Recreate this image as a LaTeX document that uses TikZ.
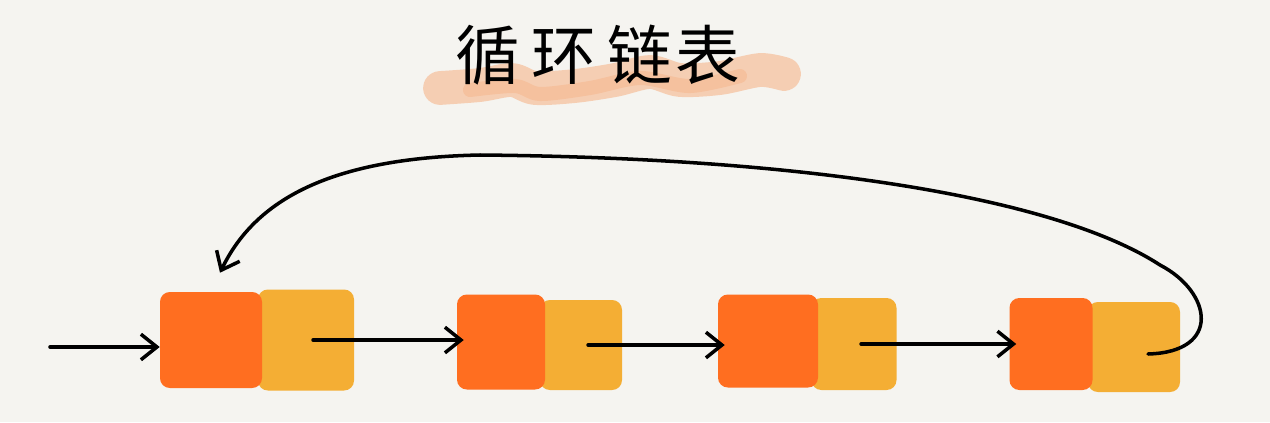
\documentclass[tikz,border=0pt]{standalone}
\usepackage{fontspec}
\newfontfamily\cjk{Noto Sans CJK SC}
\usetikzlibrary{arrows.meta}
\definecolor{paper}{RGB}{245,244,240}
\definecolor{datafill}{RGB}{255,110,32}
\definecolor{nextfill}{RGB}{244,174,52}
\definecolor{brush}{RGB}{246,170,120}

\begin{document}
\begin{tikzpicture}[
  x=0.025cm, y=-0.025cm,
  >={Straight Barb[length=4mm,width=6.4mm]},
  cell/.style={rounded corners=7pt, inner sep=0pt},
  datacell/.style={cell, fill=datafill},
  nextcell/.style={cell, fill=nextfill},
  brushstroke/.style={brush, line cap=round, line join=round},
  link/.style={->, line width=2.5pt, line cap=round, line join=round}
]

%% Paper
\fill[paper] (0,0) rectangle (1270,422);
\useasboundingbox (0,0) rectangle (1270,422);

%% Title with brush stroke
\draw[brushstroke, opacity=0.5, line width=24pt] plot[smooth] coordinates
  {(440,88) (480,85) (512,80) (535,88) (575,86) (615,80) (650,72) (680,80) (720,78) (760,70) (784,74)};
\draw[brushstroke, opacity=0.35, line width=10pt] plot[smooth] coordinates
  {(470,90) (515,86) (540,94) (590,88) (640,78) (690,86) (740,76)};
\node[font=\cjk\fontsize{46}{46}\selectfont] (title) at (598,55) {循\hspace{8pt}环\hspace{8pt}链\hspace{2pt}表};

%% List cells
\foreach \i/\dx/\dy/\dw/\dh/\nx/\ny/\nw/\nh in {
  1/211/340/102/96/306/340/96/101,
  2/501/342/88/95/581/345/82/90,
  3/768/341/100/93/854/344/85/92,
  4/1051/344/83/92/1134/347/92/90}{
  \node[nextcell, minimum width=\nw*0.025cm, minimum height=\nh*0.025cm] (n\i) at (\nx,\ny) {};
  \node[datacell, minimum width=\dw*0.025cm, minimum height=\dh*0.025cm] (d\i) at (\dx,\dy) {};
}

%% Pointers
\coordinate (entry) at (50,347);
\draw[link] (entry) -- (entry -| d1.west);
\foreach \i/\j in {1/2, 2/3, 3/4}{
  \draw[link] ([xshift=5pt]n\i.center) -- ([xshift=5pt]n\i.center -| d\j.west);
}

%% Last node points back to head
\draw[link] ([shift={(14,7)}]n4.center)
  .. controls (1222,352) and (1212,292) .. (1160,265)
  .. controls (1060,200) and (820,158) .. (480,155)
  .. controls (330,158) and (255,200) .. ([shift={(9,-19)}]d1.north);

\end{tikzpicture}
\end{document}
